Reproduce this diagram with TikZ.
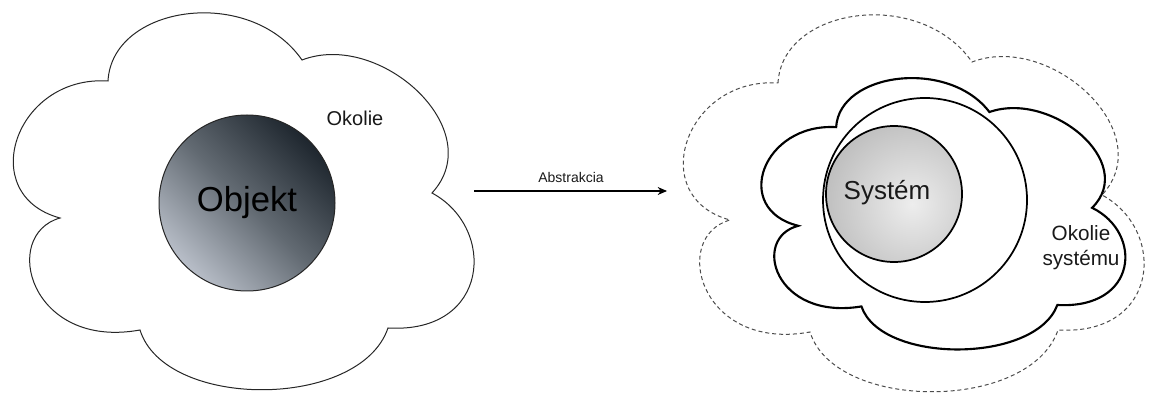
\documentclass[tikz,border=0pt]{standalone}
\usepackage{fontspec}
\setmainfont{Liberation Sans}
\usetikzlibrary{arrows.meta}
\tikzset{
  cloudline/.style={draw=black!85, line width=0.75pt},
  cloudbold/.style={draw=black, line width=1.6pt, fill=white},
  clouddash/.style={draw=black!70, line width=0.75pt, dash pattern=on 3pt off 2.2pt},
  lbl/.style={inner sep=0pt, align=center, text=black!90},
}
\newcommand{\cloudshape}{(108,81) .. controls (112,5) and (250,-15) .. (302,60)
  .. controls (380,30) and (490,130) .. (432,193)
  .. controls (497,228) and (490,334) .. (388,328)
  .. controls (360,410) and (165,410) .. (140,330)
  .. controls (30,350) and (0,235) .. (60,218)
  .. controls (-25,195) and (15,75) .. (108,81) -- cycle}
\begin{document}
\begin{tikzpicture}[x=0.75pt, y=-0.75pt]
\useasboundingbox (0,0) rectangle (1152,398);
% left cloud
\path[cloudline, fill=white] \cloudshape;
\shade[shading=axis, top color={rgb,255:red,30;green,38;blue,46}, bottom color={rgb,255:red,184;green,190;blue,200}, middle color={rgb,255:red,98;green,106;blue,114}, shading angle=-45] (247,203) circle[radius=88];
\node[circle, minimum size=176*0.75pt, draw=black!85, line width=0.75pt, inner sep=0pt, font=\fontsize{26}{30}\selectfont] (objekt) at (247,203) {Objekt};
\node[lbl, font=\fontsize{15}{18}\selectfont] (okolie) at (355,118) {Okolie};
% arrow
\coordinate (a) at (474,191);
\coordinate (b) at (667,191);
\draw[line width=0.8pt, -{Stealth[length=7pt, width=6pt]}] (a) -- (b);
\node[lbl, font=\fontsize{10.5}{12}\selectfont] (abs) at (571,177) {Abstrakcia};
% right: dashed cloud
\begin{scope}[shift={(670,2)}]
\path[clouddash] \cloudshape;
\end{scope}
% solid cloud
\begin{scope}[shift={(942,215)}, xscale=0.79, yscale=0.72, shift={(-242,-203)}]
\path[cloudbold] \cloudshape;
\end{scope}
\node[circle, minimum size=204*0.75pt, draw=black, line width=1.3pt, inner sep=0pt] (env) at (925,200) {};
\begin{scope}
\clip (894,194) circle[radius=68];
\shade[inner color=gray!14, outer color=gray!52] (912,204) circle[radius=92];
\end{scope}
\node[circle, minimum size=136*0.75pt, draw=black, line width=1.3pt, inner sep=0pt] (sys) at (894,194) {};
\node[lbl, font=\fontsize{19.5}{23}\selectfont] (systxt) at (887,193) {Systém};
\node[lbl, font=\fontsize{15.5}{18.75}\selectfont] (oks) at (1081,248) {Okolie\\systému};
\end{tikzpicture}
\end{document}
